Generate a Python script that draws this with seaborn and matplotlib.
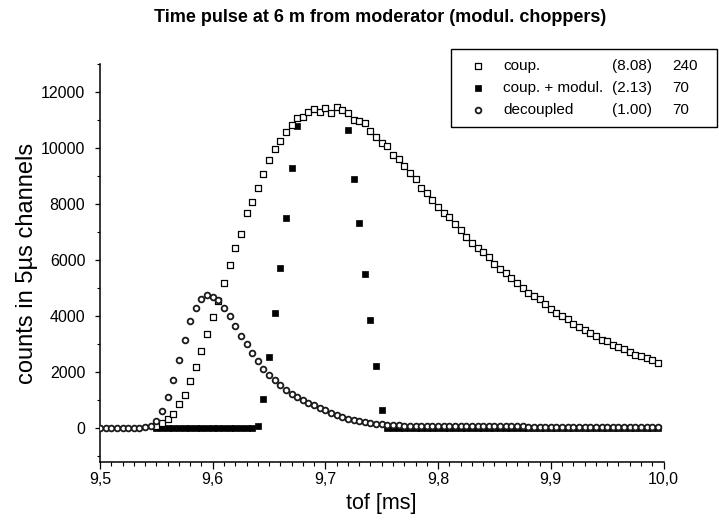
import matplotlib
matplotlib.use("Agg")
import matplotlib.pyplot as plt
import numpy as np
import pandas as pd
import seaborn as sns
from matplotlib.ticker import MultipleLocator, FuncFormatter

# time channels: 5 us wide, channel 0 starts at 9.5 ms
chan_start = 9.5
chan_width = 0.005

# coupled moderator, channels 10..99
coup_first = 10
coup = [70, 190, 320, 525, 857, 1200, 1690, 2190, 2750, 3360,
        3960, 4560, 5170, 5820, 6440, 6950, 7670, 8060, 8560, 9060,
        9570, 9960, 10250, 10560, 10810, 11060, 11120, 11270, 11380, 11300,
        11420, 11260, 11460, 11360, 11260, 11000, 10960, 10900, 10620, 10380,
        10190, 10070, 9750, 9610, 9360, 9100, 8880, 8580, 8380, 8160,
        7900, 7690, 7550, 7290, 7070, 6830, 6620, 6450, 6300, 6100,
        5860, 5700, 5550, 5380, 5200, 5020, 4830, 4710, 4600, 4420,
        4270, 4120, 4010, 3890, 3740, 3620, 3520, 3400, 3290, 3170,
        3120, 2990, 2900, 2820, 2730, 2630, 2570, 2510, 2430, 2330]

# coupled moderator + modulation choppers, channels 10..99
modul_first = 10
modul = ([0, 0, 0, 0, 0, 0, 0, 0, 0, 0,
          0, 0, 0, 0, 0, 0, 0, 0, 70, 1040,
          2530, 4100, 5730, 7490, 9300, 10800, 11120, 11270, 11380, 11300,
          11420, 11260, 11460, 11360, 10640, 8890, 7310, 5520, 3860, 2230,
          670] + [0] * 49)

# decoupled moderator, channels 0..99
decoup_first = 0
decoup = [0, 0, 0, 0, 0, 0, 0, 20, 50, 100,
          260, 620, 1120, 1710, 2430, 3140, 3830, 4290, 4630, 4775,
          4700, 4570, 4290, 4000, 3650, 3290, 3020, 2690, 2390, 2130,
          1890, 1710, 1540, 1360, 1240, 1120, 1000, 905, 820, 740,
          640, 560, 465, 400, 330, 285, 250, 210, 190, 165,
          140, 130, 110, 105, 100, 95, 95, 90, 90, 85,
          85, 80, 80, 78, 78, 76, 75, 75, 73, 72,
          72, 70, 70, 68, 68, 67, 66, 65, 65, 64,
          63, 62, 62, 61, 60, 60, 59, 58, 58, 57,
          57, 56, 56, 55, 55, 54, 54, 53, 53, 52]

legend_names = ["coup.", "coup. + modul.", "decoupled"]
legend_ratio = ["(8.08)", "(2.13)", "(1.00)"]
legend_width = ["240", "70", "70"]


def channels(first, vals):
    k = first + np.arange(len(vals))
    return pd.DataFrame({"tof": chan_start + chan_width * k, "counts": vals})


df_coup = channels(coup_first, coup)
df_modul = channels(modul_first, modul)
df_decoup = channels(decoup_first, decoup)

sns.set_style("ticks")
plt.rcParams["font.family"] = ["Liberation Sans", "DejaVu Sans"]
plt.rcParams.update({"text.color": "black", "axes.labelcolor": "black",
                     "xtick.color": "black", "ytick.color": "black"})

fig = plt.figure(figsize=(7.19, 5.26), dpi=100)
ax = fig.add_axes([100 / 719, 64 / 526, 563.5 / 719, 398 / 526])

sns.scatterplot(data=df_coup, x="tof", y="counts", ax=ax, marker="s", s=17,
                color="white", edgecolor="black", linewidth=0.9,
                label=legend_names[0], zorder=3)
sns.scatterplot(data=df_modul, x="tof", y="counts", ax=ax, marker="s", s=15,
                color="black", edgecolor="black", linewidth=0.5,
                label=legend_names[1], zorder=2)
sns.scatterplot(data=df_decoup, x="tof", y="counts", ax=ax, marker="o", s=17,
                color="white", edgecolor="#1a1a1a", linewidth=1.3,
                label=legend_names[2], zorder=4)

ax.set_xlim(9.5, 10.0)
ax.set_ylim(-1200, 13000)
ax.xaxis.set_major_locator(MultipleLocator(0.1))
ax.xaxis.set_minor_locator(MultipleLocator(0.01))
ax.yaxis.set_major_locator(MultipleLocator(2000))
ax.yaxis.set_minor_locator(MultipleLocator(1000))
ax.xaxis.set_major_formatter(FuncFormatter(lambda v, p: f"{v:.1f}".replace(".", ",")))
ax.yaxis.set_major_formatter(FuncFormatter(lambda v, p: f"{v:.0f}"))
ax.tick_params(which="major", axis="x", direction="out", length=5, width=0.9, labelsize=11.5, pad=2.5)
ax.tick_params(which="minor", axis="x", direction="out", length=3, width=0.8)
ax.tick_params(which="major", axis="y", direction="out", length=3.6, width=0.9, labelsize=11.5, pad=7)
ax.tick_params(which="minor", axis="y", direction="out", length=2.5, width=0.8)
sns.despine(ax=ax)
for side in ["left", "bottom"]:
    ax.spines[side].set_linewidth(1.1)
    ax.spines[side].set_color("black")

ax.set_xlabel("tof [ms]", fontsize=15.5)
ax.set_ylabel("counts in 5µs channels", fontsize=17)
ax.xaxis.set_label_coords(0.5, -0.078)
ax.yaxis.set_label_coords(-0.11, 0.5)

fig.text(0.528, 0.966, "Time pulse at 6 m from moderator (modul. choppers)",
         ha="center", va="center", fontsize=13, fontweight="bold")

leg = ax.legend(loc="upper left", bbox_to_anchor=(451 / 719, 1 - 49 / 526, 266 / 719, 0),
                bbox_transform=fig.transFigure, mode="expand", borderaxespad=0,
                fontsize=11, frameon=True, fancybox=False, framealpha=1,
                edgecolor="black", handlelength=2.3, handletextpad=0.45,
                labelspacing=0.52, borderpad=0.65)
leg.get_frame().set_linewidth(1.0)

# extra legend columns, lined up with the legend rows
fig.canvas.draw()
for t, r, w in zip(leg.get_texts(), legend_ratio, legend_width):
    bb = t.get_window_extent()
    yc = (bb.y0 + bb.y1) / 2 / fig.bbox.height
    fig.text(612 / 719, yc, r, ha="left", va="center", fontsize=11)
    fig.text(672 / 719, yc, w, ha="left", va="center", fontsize=11)

fig.savefig("out.png", dpi=100)
